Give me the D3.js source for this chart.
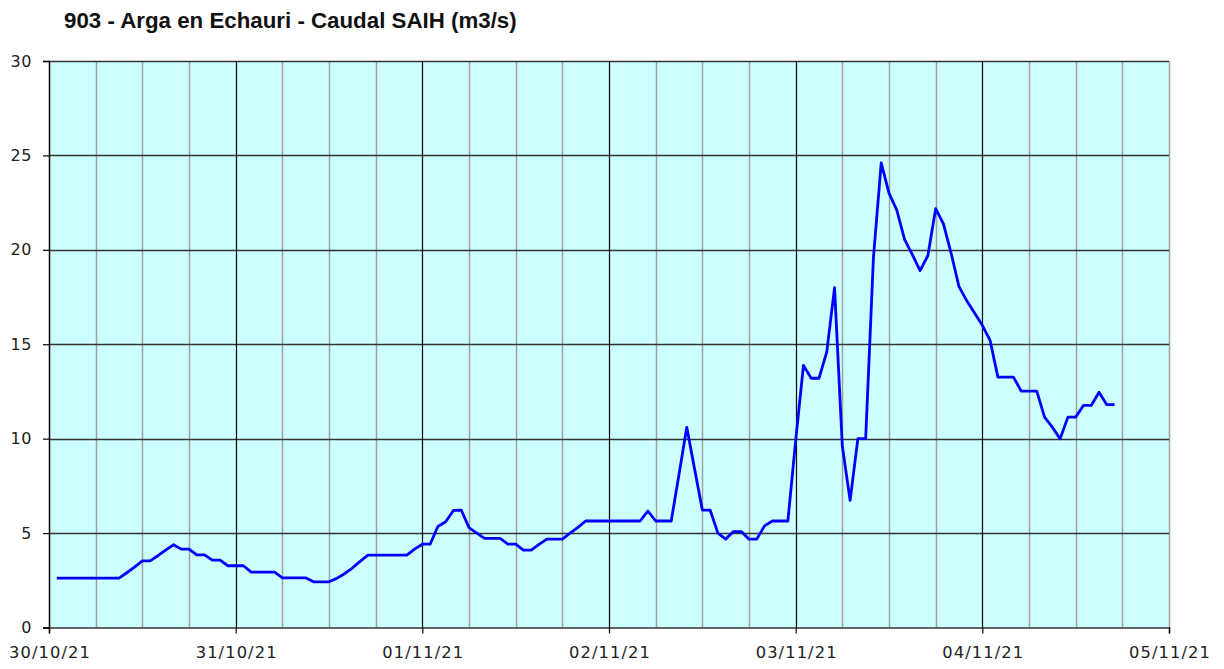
<!DOCTYPE html>
<html>
<head>
<meta charset="utf-8">
<script src="https://cdn.jsdelivr.net/npm/d3@7"></script>
<style>
  html, body { margin: 0; padding: 0; background: #ffffff; }
  svg { display: block; }
</style>
</head>
<body>
<svg id="chart" width="1224" height="669"></svg>
<script>
// ---- data ----
const chartTitle = "903 - Arga en Echauri - Caudal SAIH (m3/s)";
const firstReading = "2021-10-30T01:00:00Z";   // hourly readings
const readingStepHours = 1;
const flow = [
  2.61, 2.61, 2.61, 2.61, 2.61, 2.61, 2.61, 2.61, 2.61,            // 01-09
  2.90, 3.20, 3.53, 3.53, 3.80, 4.10, 4.38, 4.15, 4.15, 3.85, 3.85, // 10-20
  3.57, 3.57, 3.27, 3.27, 3.27, 2.93, 2.93, 2.93, 2.93, 2.63,       // 21-30
  2.63, 2.63, 2.63, 2.42, 2.42, 2.42, 2.60, 2.85, 3.15, 3.50,       // 31-40
  3.83, 3.83, 3.83, 3.83, 3.83, 3.83, 4.15, 4.41, 4.41, 5.35,       // 41-50
  5.60, 6.20, 6.22, 5.29, 5.00, 4.72, 4.72, 4.72, 4.42, 4.42,       // 51-60
  4.10, 4.10, 4.40, 4.68, 4.68, 4.68, 5.00, 5.30, 5.64, 5.64,       // 61-70
  5.64, 5.64, 5.64, 5.64, 5.64, 5.64, 6.17, 5.64, 5.64, 5.64,       // 71-80
  8.10, 10.60, 8.40, 6.22, 6.22, 5.00, 4.68, 5.08, 5.08, 4.68,      // 81-90
  4.68, 5.38, 5.64, 5.64, 5.64, 9.90, 13.88, 13.20, 13.20, 14.60,   // 91-100
  18.00, 9.60, 6.73, 10.00, 10.00, 19.60, 24.60, 23.00, 22.10, 20.55, // 101-110
  19.75, 18.90, 19.70, 22.18, 21.38, 19.80, 18.05, 17.30, 16.65, 16.00, // 111-120
  15.20, 13.26, 13.26, 13.26, 12.52, 12.52, 12.52, 11.14, 10.61, 9.99,  // 121-130
  11.14, 11.14, 11.76, 11.76, 12.46, 11.80, 11.80                    // 131-137
];
const xDomain = ["2021-10-30T00:00:00Z", "2021-11-05T00:00:00Z"];
const xTickLabels = ["30/10/21", "31/10/21", "01/11/21", "02/11/21", "03/11/21", "04/11/21", "05/11/21"];
const yTicks = [0, 5, 10, 15, 20, 25, 30];

// ---- layout ----
const plot = { left: 49, right: 1169, top: 61, bottom: 627.5 };
const svg = d3.select("#chart");

const x = d3.scaleUtc()
  .domain(xDomain.map(d => new Date(d)))
  .range([plot.left, plot.right]);
const y = d3.scaleLinear()
  .domain([0, 30])
  .range([plot.bottom, plot.top]);

const t0 = new Date(firstReading).getTime();
const series = flow.map((v, i) => ({ t: new Date(t0 + i * readingStepHours * 3600e3), v }));

// background
svg.append("rect")
  .attr("x", plot.left).attr("y", plot.top)
  .attr("width", plot.right - plot.left)
  .attr("height", plot.bottom - plot.top)
  .attr("fill", "#ccffff");

// minor vertical gridlines (every 6 hours)
const minorTimes = d3.utcHour.every(6).range(x.domain()[0], x.domain()[1])
  .filter(d => d.getUTCHours() !== 0);
svg.append("g").selectAll("line").data(minorTimes).join("line")
  .attr("x1", d => Math.round(x(d)) + 0.5).attr("x2", d => Math.round(x(d)) + 0.5)
  .attr("y1", plot.top).attr("y2", plot.bottom)
  .attr("stroke", "#a0a0a0").attr("stroke-width", 1.5);

// right border
svg.append("line")
  .attr("x1", plot.right + 0.5).attr("x2", plot.right + 0.5)
  .attr("y1", plot.top).attr("y2", plot.bottom)
  .attr("stroke", "#a0a0a0").attr("stroke-width", 1.5);

// horizontal gridlines
svg.append("g").selectAll("line").data(yTicks.filter(d => d > 0)).join("line")
  .attr("x1", plot.left).attr("x2", plot.right)
  .attr("y1", d => Math.round(y(d)) + 0.5).attr("y2", d => Math.round(y(d)) + 0.5)
  .attr("stroke", "#333333").attr("stroke-width", 1.5);

// major vertical gridlines (days)
const dayTimes = d3.utcDay.range(x.domain()[0], x.domain()[1]).slice(1);
svg.append("g").selectAll("line").data(dayTimes).join("line")
  .attr("x1", d => Math.round(x(d)) + 0.5).attr("x2", d => Math.round(x(d)) + 0.5)
  .attr("y1", plot.top).attr("y2", plot.bottom)
  .attr("stroke", "#000000").attr("stroke-width", 1.2);

// data line
svg.append("path")
  .datum(series)
  .attr("fill", "none")
  .attr("stroke", "#0000ff")
  .attr("stroke-width", 2.8)
  .attr("stroke-linejoin", "round")
  .attr("d", d3.line().x(d => x(d.t)).y(d => y(d.v)));

// x axis
const xAxis = d3.axisBottom(x)
  .tickValues(d3.utcDay.range(x.domain()[0], d3.utcDay.offset(x.domain()[1], 1)))
  .tickSize(6)
  .tickPadding(13)
  .tickFormat((d, i) => xTickLabels[i]);
const gx = svg.append("g")
  .attr("transform", `translate(0,${plot.bottom})`)
  .call(xAxis);
gx.select(".domain").attr("stroke", "#333").attr("stroke-width", 1.5);
gx.selectAll(".tick line").attr("stroke", "#000").attr("stroke-width", 1.2);
gx.selectAll("text")
  .attr("fill", "#222")
  .attr("dx", "0.5px")
  .style("font-family", "'DejaVu Sans', Verdana, sans-serif")
  .style("font-size", "16.3px")
  .style("letter-spacing", "1.1px");

// y axis
const yAxis = d3.axisLeft(y)
  .tickValues(yTicks)
  .tickSize(6)
  .tickPadding(11)
  .tickFormat(d3.format("d"));
const gy = svg.append("g")
  .attr("transform", `translate(${plot.left},0)`)
  .call(yAxis);
gy.select(".domain").attr("stroke", "#000").attr("stroke-width", 1.5);
gy.selectAll(".tick line").attr("stroke", "#000").attr("stroke-width", 1.2);
gy.selectAll("text")
  .attr("fill", "#222")
  .style("font-family", "'DejaVu Sans', Verdana, sans-serif")
  .style("font-size", "16px")
  .style("letter-spacing", "0.6px");

// title
svg.append("text")
  .attr("x", 64).attr("y", 28)
  .attr("fill", "#111")
  .style("font-family", "'Liberation Sans', Arial, sans-serif")
  .style("font-weight", "bold")
  .style("font-size", "22.3px")
  .text(chartTitle);
</script>
</body>
</html>
